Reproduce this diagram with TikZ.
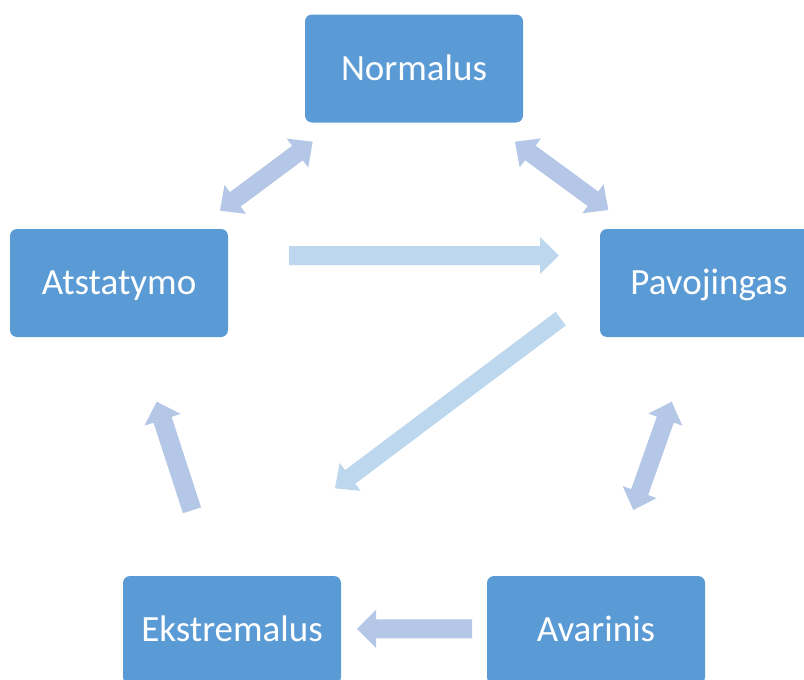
\documentclass[tikz,border=0pt]{standalone}
\usepackage{fontspec}
\setmainfont{Carlito}
\usetikzlibrary{calc}
\definecolor{boxblue}{HTML}{5B9BD5}
\definecolor{arrA}{HTML}{B4C7E7}
\definecolor{arrB}{HTML}{BDD7EE}

% #1 start, #2 end (tip), #3 colour, #4 shaft half width, #5 head half width
\newcommand\singlearrow[5]{%
  \path ($(#2)!19pt!(#1)$) coordinate (ha);
  \fill[#3] ($(#1)!#4!90:(#2)$) -- ($(ha)!#4!90:(#2)$) -- ($(ha)!#5!90:(#2)$) -- (#2)
    -- ($(ha)!#5!-90:(#2)$) -- ($(ha)!#4!-90:(#2)$) -- ($(#1)!#4!-90:(#2)$) -- cycle;}
\newcommand\doublearrow[5]{%
  \path ($(#2)!19pt!(#1)$) coordinate (ha) ($(#1)!19pt!(#2)$) coordinate (hb);
  \fill[#3] (#1) -- ($(hb)!#5!90:(#2)$) -- ($(hb)!#4!90:(#2)$) -- ($(ha)!#4!90:(#2)$)
    -- ($(ha)!#5!90:(#2)$) -- (#2) -- ($(ha)!#5!-90:(#2)$) -- ($(ha)!#4!-90:(#2)$)
    -- ($(hb)!#4!-90:(#2)$) -- ($(hb)!#5!-90:(#2)$) -- cycle;}

\tikzset{box/.style={rectangle, rounded corners=7pt, fill=boxblue, text=white,
  minimum width=218pt, minimum height=108pt, inner sep=0pt,
  font=\fontsize{37}{41}\selectfont, text height=23.5pt, text depth=0pt}}

\begin{document}
\begin{tikzpicture}[x=1pt,y=-1pt]
\useasboundingbox (0,0) rectangle (804,680);
\clip (0,0) rectangle (804,680);

\node[box] (n)  at (414,68.5) {Normalus};
\node[box] (at) at (119,283) {Atstatymo};
\node[box] (pv) at (709,283) {Pavojingas};
\node[box] (ek) at (232,630) {Ekstremalus};
\node[box] (av) at (596,630) {Avarinis};

\coordinate (a1s) at (220,210.7);   \coordinate (a1e) at (312.7,141.7);
\coordinate (a2s) at (515,141.7);   \coordinate (a2e) at (608.3,210);
\coordinate (a3s) at (289,255.5);   \coordinate (a3e) at (559,255.5);
\coordinate (a4s) at (560.7,318.7); \coordinate (a4e) at (335,488.3);
\coordinate (a5s) at (192,510.3);   \coordinate (a5e) at (156.7,401.7);
\coordinate (a6s) at (671.7,401.7); \coordinate (a6e) at (633.3,510);
\coordinate (a7s) at (472,628.8);   \coordinate (a7e) at (357,628.8);

\doublearrow{a1s}{a1e}{arrA}{9pt}{18pt}
\doublearrow{a2s}{a2e}{arrA}{9pt}{18pt}
\singlearrow{a3s}{a3e}{arrB}{9.5pt}{18.5pt}
\singlearrow{a4s}{a4e}{arrB}{8.5pt}{17.5pt}
\singlearrow{a5s}{a5e}{arrA}{9.5pt}{19pt}
\doublearrow{a6s}{a6e}{arrA}{9pt}{18pt}
\singlearrow{a7s}{a7e}{arrA}{9.5pt}{19pt}
\end{tikzpicture}
\end{document}
